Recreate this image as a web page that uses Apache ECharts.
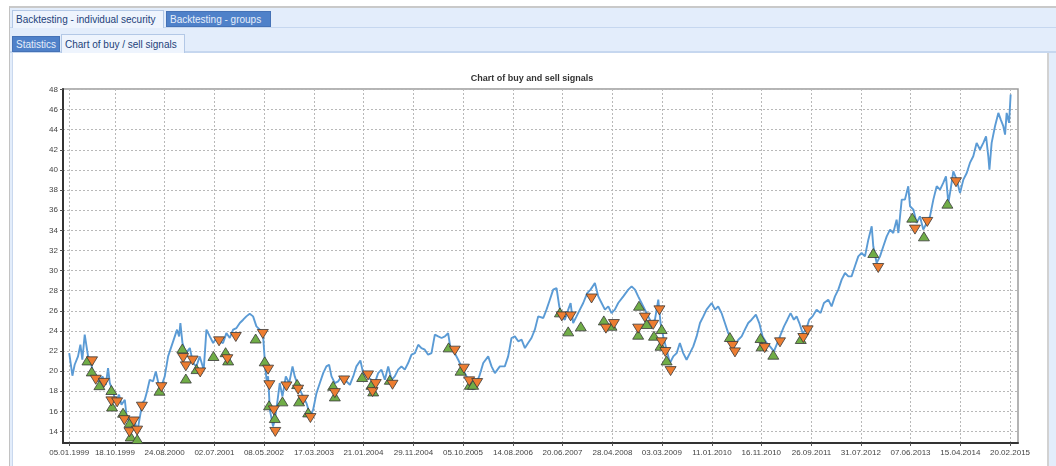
<!DOCTYPE html>
<html>
<head>
<meta charset="utf-8">
<script src="https://cdn.jsdelivr.net/npm/echarts@6/dist/echarts.min.js"></script>
<style>
  html, body { margin:0; padding:0; background:#fff; }
  body { width:1056px; height:466px; overflow:hidden; position:relative; font-family:'Liberation Sans', Arial, sans-serif; }
  .abs { position:absolute; }
  .tab { position:absolute; font-size:10px; box-sizing:border-box; padding-left:3px; white-space:nowrap; }
  .light { background:#eef4fd; color:#23427a; border:1px solid #b3c8e6; border-bottom:none; }
  .dark { background:#4f81c9; color:#e6eefa; border:1px solid #4572b6; }
</style>
</head>
<body>
<div class="abs" style="left:9px;top:6px;width:1047px;height:460px;border-top:2px solid #c9c9c9;border-left:1px solid #c2c2c2;background:#e3edfb;"></div>
<div class="abs" style="left:10px;top:27px;width:1046px;height:1px;background:#c6d7ef;"></div>
<div class="abs" style="left:10px;top:51px;width:1046px;height:2px;background:#c6d7ef;"></div>
<div class="tab light" style="left:12px;top:10px;width:152px;height:18px;line-height:18px;">Backtesting - individual security</div>
<div class="tab dark" style="left:166px;top:11px;width:105px;height:16px;line-height:15px;">Backtesting - groups</div>
<div class="tab dark" style="left:12px;top:36px;width:48px;height:16px;line-height:15px;">Statistics</div>
<div class="tab light" style="left:61px;top:34px;width:124px;height:19px;line-height:19px;">Chart of buy / sell signals</div>
<div class="abs" style="left:12px;top:53px;width:1034px;height:413px;background:#fff;border-left:1px solid #c9d8ee;border-right:2px solid #d2d2d2;"></div>
<div id="chart" class="abs" style="left:8px;top:0;width:1048px;height:466px;"></div>
<script>
// x values are calendar days counted from 05.01.1999
const tickDays = [0,286,597,909,1219,1532,1842,2155,2465,2778,3088,3401,3710,4024,4333,4647,4956,5267,5579,5890];
const tickLabels = ['05.01.1999','18.10.1999','24.08.2000','02.07.2001','08.05.2002','17.03.2003','21.01.2004','29.11.2004','05.10.2005','14.08.2006','20.06.2007','28.04.2008','03.03.2009','11.01.2010','16.11.2010','26.09.2011','31.07.2012','07.06.2013','15.04.2014','20.02.2015'];
const yTicks = [14,16,18,20,22,24,26,28,30,32,34,36,38,40,42,44,46,48];

const priceDays = [
  0,20,34,55,70,82,97,107,118,133,
  149,166,187,208,229,243,254,270,291,312,
  327,348,358,379,396,408,425,441,458,473,
  487,504,525,542,558,577,598,619,640,661,
  675,688,696,709,730,755,775,796,817,842,
  859,880,901,922,942,963,984,1005,1026,1047,
  1068,1089,1109,1130,1151,1172,1193,1214,1224,1235,
  1245,1256,1276,1287,1302,1318,1335,1356,1377,1398,
  1412,1427,1444,1464,1485,1510,1527,1548,1569,1590,
  1610,1627,1642,1663,1684,1704,1725,1757,1778,1798,
  1823,1840,1861,1892,1913,1934,1955,1976,1997,2018,
  2038,2059,2080,2101,2122,2143,2164,2185,2205,2226,
  2247,2268,2289,2310,2331,2352,2372,2387,2408,2435,
  2456,2477,2498,2525,2546,2567,2592,2623,2644,2665,
  2696,2727,2748,2769,2790,2811,2832,2853,2873,2894,
  2915,2936,
  2968,2988,3009,3030,3051,3068,3082,3103,3124,3139,
  3155,3176,3197,3218,3243,3264,3291,3312,3333,3354,
  3375,3395,3416,3437,3469,3500,3521,3542,3562,3583,
  3604,3625,3646,3667,3688,3702,3719,3740,3761,3782,
  3803,3823,3844,3865,3886,3907,3928,3949,3970,3990,
  4022,4043,4063,4084,4105,4126,4147,4168,4189,4210,
  4230,4251,4272,4299,4320,4341,4366,4387,4412,4433,
  4454,4475,4496,4516,4537,4554,4571,4592,4613,4633,
  4654,4679,4704,4725,4752,4773,4794,4815,4836,4857,
  4878,4898,4919,4940,4961,4982,5003,5024,5034,5055,
  5076,5097,5118,5139,5159,5180,5191,5212,5232,5253,
  5264,5285,5305,5326,5347,5368,5389,5410,5431,5452,
  5472,5489,5504,5518,5535,5556,5577,5598,5619,5639,
  5660,5681,5702,5723,5740,5754,5761,5775,5796,5817,
  5832,5848,5859,5869,5884,5894
];
const priceValues = [
  21.79,19.54,20.63,21.46,22.62,21.13,23.62,23.45,21.46,21.13,
  19.80,19.47,18.98,19.47,18.64,20.30,18.81,18.15,16.99,17.65,
  16.65,17.15,15.66,14.83,14.50,15.33,13.83,15.33,16.82,17.15,
  17.98,19.14,18.98,19.97,18.81,18.48,19.47,21.46,22.46,23.45,
  24.12,23.45,24.78,22.79,21.79,22.29,20.80,20.47,21.46,20.14,
  24.12,23.45,22.79,23.29,22.96,22.79,23.78,23.29,24.12,24.28,
  24.78,25.11,25.44,25.71,25.44,24.45,24.12,23.45,21.13,19.14,
  19.47,16.16,14.50,15.16,16.82,18.81,17.48,19.47,18.81,20.47,
  19.47,18.81,18.15,17.48,16.82,15.50,16.16,17.81,18.81,19.80,
  20.47,20.63,19.47,18.81,18.98,19.47,19.14,18.64,19.47,20.47,
  21.06,19.80,19.47,19.14,18.81,19.80,20.14,19.14,20.47,19.14,
  19.47,20.14,20.47,20.14,20.80,21.63,21.79,22.62,22.29,22.13,
  21.63,21.79,23.62,23.45,23.29,23.45,23.78,22.29,21.96,21.13,
  20.47,19.80,19.14,18.15,18.81,19.47,20.80,21.46,20.47,19.80,
  20.47,20.47,21.46,23.29,23.45,22.96,23.12,22.29,22.79,23.29,
  24.12,25.44,
  25.28,26.11,27.10,28.10,28.26,26.44,25.44,25.11,26.11,26.77,
  24.78,25.44,26.11,26.77,27.76,28.10,28.76,27.43,26.77,26.11,
  26.44,25.77,26.11,26.77,27.43,28.10,28.43,28.10,27.43,26.77,
  26.11,25.44,24.78,25.11,27.10,24.78,23.45,22.13,20.80,21.46,
  21.79,22.79,21.79,21.13,21.79,22.46,23.45,24.78,25.44,26.11,
  26.77,26.11,26.44,25.77,24.78,23.78,23.12,22.62,23.12,23.45,
  24.12,24.78,25.11,25.61,24.78,23.45,22.79,22.46,21.96,22.79,
  23.62,24.45,25.11,25.77,25.11,25.44,24.78,23.78,24.12,25.11,
  25.44,26.11,25.77,26.77,27.10,26.44,27.43,28.10,29.09,29.75,
  29.42,29.42,30.42,31.41,31.74,31.41,33.07,34.40,32.41,30.75,
  31.41,32.41,33.40,34.07,33.73,35.06,33.73,37.05,37.05,38.38,
  36.39,36.06,34.73,35.39,34.07,34.73,35.39,37.05,38.38,38.05,
  38.71,39.37,36.72,38.05,39.87,39.04,37.71,39.04,39.70,40.70,
  41.36,42.69,42.03,42.69,43.35,41.36,40.04,42.69,44.35,45.67,
  45.01,44.35,43.52,45.67,44.68,47.50
];

const buyDays = [114,141,189,264,268,337,379,385,426,565,708,730,797,903,979,995,1167,1224,1251,1287,1335,1427,1439,1496,1652,1663,1834,1892,1903,2007,2375,2450,2508,2529,3072,3124,3203,3347,3395,3562,3567,3615,3661,3702,3709,3740,4136,4328,4335,4408,4580,5034,5278,5351,5498];
const buyValues = [21.06,19.97,18.60,18.12,16.48,15.86,14.87,13.50,13.24,18.05,22.25,19.26,20.20,21.50,21.88,21.06,23.24,20.97,16.60,15.33,16.99,18.71,16.99,15.89,18.54,17.48,19.41,18.64,17.98,19.14,22.36,20.04,18.64,18.64,25.84,23.95,24.45,25.04,24.51,23.62,26.50,24.68,23.52,22.52,24.18,21.06,23.39,23.29,22.46,21.63,23.19,31.74,35.26,33.40,36.65];
const sellDays = [143,166,217,264,300,345,377,404,425,455,577,713,730,773,820,938,990,1043,1212,1245,1253,1281,1290,1360,1433,1464,1510,1663,1721,1871,1899,1919,2024,2414,2471,2504,2554,3084,3139,3270,3360,3410,3562,3604,3656,3695,3709,3732,3765,4153,4168,4354,4450,4596,4623,5065,5295,5372,5552];
const sellValues = [20.97,19.14,18.83,16.99,16.89,15.12,13.92,14.99,14.08,16.46,18.40,21.30,20.47,21.05,19.87,22.96,21.18,23.39,23.69,20.14,18.60,16.09,13.95,18.48,18.15,17.15,15.33,17.81,19.07,19.57,17.91,18.71,18.64,22.03,20.24,18.98,18.81,25.44,25.44,27.22,24.22,24.68,24.22,25.32,24.60,26.04,22.86,21.90,20.00,22.50,21.86,22.29,22.86,23.29,24.05,30.25,34.07,34.83,38.78];

const zip = (a, b) => a.map((d, i) => [d, b[i]]);
const FONT = "'Liberation Sans', Arial, sans-serif";

const chart = echarts.init(document.getElementById('chart'), null, { renderer: 'canvas' });
chart.setOption({
  animation: false,
  backgroundColor: 'transparent',
  title: {
    text: 'Chart of buy and sell signals',
    left: 'center', top: 74, padding: 0,
    textStyle: { fontSize: 9, fontWeight: 'bold', color: '#333', fontFamily: FONT }
  },
  grid: { left: 55, right: 38, top: 89, bottom: 23, show: true, borderColor: '#9c9c9c', borderWidth: 1.5, containLabel: false },
  xAxis: {
    type: 'value', min: -39, max: 5940,
    axisLine: { show: true, onZero: false, lineStyle: { color: '#333', width: 2 } },
    axisTick: { show: true, customValues: tickDays, length: 3, lineStyle: { color: '#555' } },
    axisLabel: {
      customValues: tickDays, fontSize: 8, color: '#444', margin: 6, fontFamily: FONT,
      formatter: v => { const i = tickDays.indexOf(v); return i >= 0 ? tickLabels[i] : ''; }
    },
    splitLine: { show: true, lineStyle: { color: '#b8b8b8', type: [2, 2], width: 1 } }
  },
  yAxis: {
    type: 'value', min: 12.85, max: 48.05,
    axisLine: { show: true, onZero: false, lineStyle: { color: '#333', width: 2 } },
    axisTick: { show: true, customValues: yTicks, length: 3, lineStyle: { color: '#555' } },
    axisLabel: { customValues: yTicks, fontSize: 8, color: '#444', margin: 5, fontFamily: FONT },
    splitLine: { show: true, lineStyle: { color: '#b8b8b8', type: [2, 2], width: 1 } }
  },
  series: [
    {
      type: 'line', data: zip(priceDays, priceValues), showSymbol: false, z: 2,
      lineStyle: { color: '#5b9bd5', width: 1.9 }
    },
    {
      type: 'scatter', data: zip(buyDays, buyValues), symbol: 'triangle', symbolSize: [11, 9], z: 3,
      itemStyle: { color: '#70ad47', borderColor: '#3a3a3a', borderWidth: 0.8, opacity: 1 }
    },
    {
      type: 'scatter', data: zip(sellDays, sellValues), symbol: 'triangle', symbolRotate: 180, symbolSize: [11, 9], z: 4,
      itemStyle: { color: '#ed7d31', borderColor: '#3a3a3a', borderWidth: 0.8, opacity: 1 }
    }
  ]
});
</script>
</body>
</html>
